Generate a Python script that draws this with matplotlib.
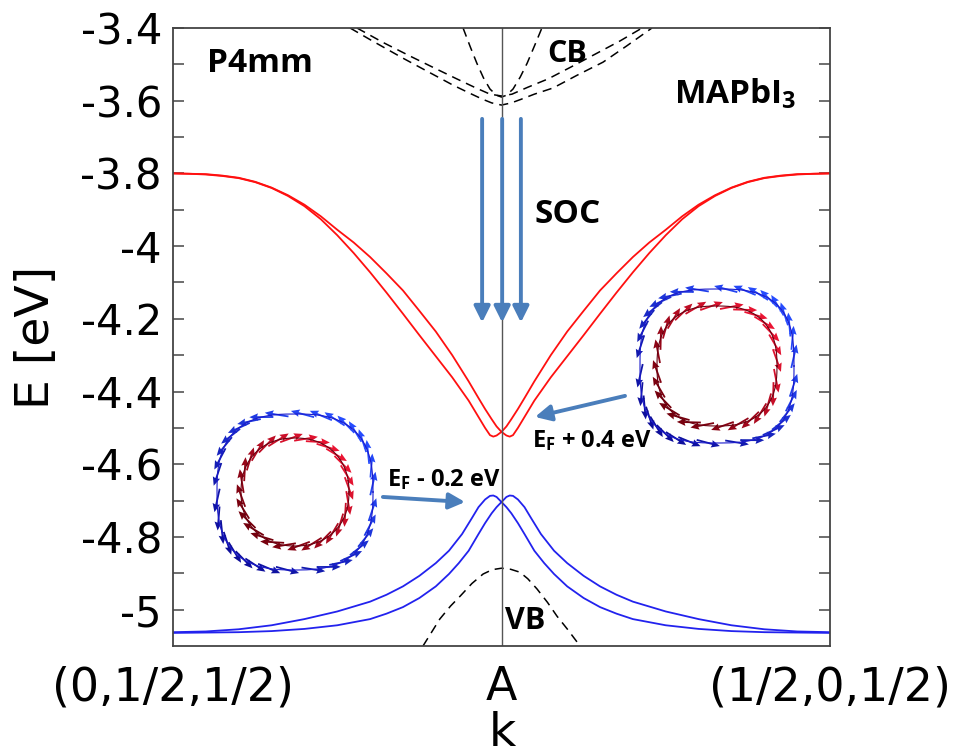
import numpy as np
import matplotlib.pyplot as plt

plt.rcParams['font.family'] = ['DejaVu Sans']
plt.rcParams['mathtext.fontset'] = 'custom'
plt.rcParams['mathtext.rm'] = 'Open Sans:bold'
plt.rcParams['mathtext.it'] = 'Open Sans:bold'
plt.rcParams['mathtext.bf'] = 'Open Sans:bold'

# bands: k along (0,1/2,1/2) -> A -> (1/2,0,1/2), E in eV
# red (SOC-split CB); the second branch is the mirror image k -> -k
k_red = [-1.0, -0.95, -0.9, -0.85, -0.8, -0.75, -0.7, -0.65, -0.6, -0.55, -0.5, -0.45,
         -0.4, -0.35, -0.3, -0.25, -0.2, -0.15, -0.1, -0.07, -0.05, -0.035, -0.025,
         -0.015, 0.0, 0.015, 0.03, 0.05, 0.07, 0.1, 0.15, 0.2, 0.25, 0.3, 0.35, 0.4,
         0.45, 0.5, 0.55, 0.6, 0.65, 0.7, 0.75, 0.8, 0.85, 0.9, 0.95, 1.0]
E_red = [-3.800, -3.801, -3.803, -3.807, -3.813, -3.824, -3.840, -3.862, -3.890, -3.926,
         -3.970, -4.019, -4.072, -4.128, -4.186, -4.245, -4.303, -4.361, -4.425, -4.470,
         -4.500, -4.520, -4.524, -4.521, -4.511, -4.496, -4.476, -4.448, -4.418, -4.372,
         -4.300, -4.235, -4.178, -4.122, -4.075, -4.030, -3.990, -3.955, -3.918, -3.886,
         -3.860, -3.839, -3.823, -3.812, -3.806, -3.802, -3.801, -3.800]

# blue (SOC-split VB), mirrored the same way
k_blue = [-1.0, -0.9, -0.8, -0.7, -0.6, -0.5, -0.4, -0.35, -0.3, -0.25, -0.2, -0.16,
          -0.12, -0.09, -0.07, -0.05, -0.035, -0.025, -0.015, 0.0, 0.015, 0.03, 0.05,
          0.07, 0.1, 0.13, 0.16, 0.2, 0.25, 0.3, 0.35, 0.4, 0.5, 0.6, 0.7, 0.8, 0.9, 1.0]
E_blue = [-5.062, -5.060, -5.054, -5.043, -5.026, -5.005, -4.978, -4.959, -4.936, -4.907,
          -4.872, -4.838, -4.792, -4.748, -4.718, -4.697, -4.687, -4.686, -4.690, -4.704,
          -4.718, -4.735, -4.762, -4.792, -4.838, -4.872, -4.902, -4.936, -4.968, -4.993,
          -5.011, -5.026, -5.043, -5.053, -5.059, -5.062, -5.063, -5.064]

# dashed bands without SOC
k_cb_low = [-0.461, -0.4, -0.3, -0.22, -0.148, -0.1, -0.06, -0.03, 0.0, 0.03, 0.06,
            0.1, 0.157, 0.23, 0.309, 0.38, 0.458]
E_cb_low = [-3.400, -3.432, -3.483, -3.522, -3.557, -3.578, -3.595, -3.606, -3.612,
            -3.606, -3.596, -3.582, -3.565, -3.530, -3.494, -3.450, -3.400]
k_cb_up = [-0.44, -0.36, -0.279, -0.2, -0.136, -0.08, -0.035, 0.0, 0.032, 0.08, 0.142,
           0.21, 0.285, 0.36, 0.428]
E_cb_up = [-3.400, -3.440, -3.477, -3.512, -3.540, -3.564, -3.582, -3.587, -3.582,
           -3.563, -3.540, -3.508, -3.472, -3.436, -3.400]
k_cb_steep = [-0.117, -0.095, -0.075, -0.055, -0.035, -0.015, 0.0, 0.015, 0.035, 0.057,
              0.078, 0.1, 0.123]
E_cb_steep = [-3.400, -3.452, -3.497, -3.537, -3.568, -3.585, -3.590, -3.585, -3.568,
              -3.535, -3.497, -3.450, -3.400]
k_vb = [-0.239, -0.21, -0.188, -0.155, -0.126, -0.09, -0.056, -0.028, 0.0, 0.028, 0.056,
        0.08, 0.108, 0.14, 0.169, 0.2, 0.23, 0.24]
E_vb = [-5.100, -5.058, -5.026, -4.990, -4.963, -4.928, -4.902, -4.890, -4.886, -4.889,
        -4.897, -4.915, -4.943, -4.980, -5.018, -5.053, -5.089, -5.100]

k_ticks = [-1, 0, 1]
k_labels = ['(0,1/2,1/2)', 'A', '(1/2,0,1/2)']
e_ticks = np.round(np.arange(-5.0, -3.35, 0.1), 1)
e_labels = ['-5', '', '-4.8', '', '-4.6', '', '-4.4', '', '-4.2', '', '-4', '',
            '-3.8', '', '-3.6', '', '-3.4']

W, H = 959, 756
fig = plt.figure(figsize=(W / 100, H / 100), dpi=100)
ax = fig.add_axes([173 / W, 1 - 646 / H, 657 / W, 618 / H])

red = '#ff1010'
blue = '#2222ee'
arrow_c = '#4a7ebb'

ax.plot(k_red, E_red, color=red, lw=1.3)
ax.plot(-np.array(k_red), E_red, color=red, lw=1.3)
ax.plot(k_blue, E_blue, color=blue, lw=1.3)
ax.plot(-np.array(k_blue), E_blue, color=blue, lw=1.3)
for ks, es in [(k_cb_low, E_cb_low), (k_cb_up, E_cb_up), (k_cb_steep, E_cb_steep), (k_vb, E_vb)]:
    ax.plot(ks, es, color='black', lw=1.1, ls=(0, (6, 4)))
ax.axvline(0, color='#555555', lw=1.0)

ax.set_xlim(-1, 1)
ax.set_ylim(-5.1, -3.4)
ax.set_xticks(k_ticks)
ax.set_xticklabels(k_labels)
ax.set_yticks(e_ticks)
ax.set_yticklabels(e_labels)
ax.tick_params(axis='y', direction='in', length=8, width=1.2, right=True,
               labelsize=30, pad=8, color='#555555')
ax.tick_params(axis='x', length=0, labelsize=33, pad=14)
for sp in ax.spines.values():
    sp.set_color('#444444')
    sp.set_linewidth(1.3)

fig.text(36 / W, 1 - 337 / H, 'E [eV]', rotation=90, ha='center', va='center', fontsize=34)
fig.text(502 / W, 1 - 733 / H, 'k', ha='center', va='center', fontsize=34)

lab = dict(family='Open Sans', fontweight='bold', ha='center', va='center')
ax.text(-0.735, -3.499, 'P4mm', fontsize=24, **lab)
ax.text(0.199, -3.472, 'CB', fontsize=22, **lab)
ax.text(0.711, -3.582, r'MAPbI$_3$', fontsize=24, **lab)
ax.text(0.202, -3.912, 'SOC', fontsize=24, **lab)
ax.text(0.072, -5.031, 'VB', fontsize=22, **lab)
ax.text(-0.175, -4.643, r'E$_F$ - 0.2 eV', fontsize=17, **lab)
ax.text(0.275, -4.536, r'E$_F$ + 0.4 eV', fontsize=17, **lab)

aprops = dict(arrowstyle='-|>,head_width=0.24,head_length=0.48', lw=2.8, color=arrow_c,
              shrinkA=0, shrinkB=0, mutation_scale=20)
for kx in [-0.059, 0.002, 0.059]:
    ax.annotate('', xy=(kx, -4.21), xytext=(kx, -3.65), arrowprops=aprops)
ax.annotate('', xy=(-0.111, -4.704), xytext=(-0.361, -4.690), arrowprops=aprops)
ax.annotate('', xy=(0.102, -4.470), xytext=(0.376, -4.412), arrowprops=aprops)


def spin_ring(iax, R, n, count, length, tilt, sense, c0, c1, line_c):
    """Draw a spin texture: a rounded contour with arrows along it."""
    def shape(t):
        c, s = np.cos(t), np.sin(t)
        return (R * np.sign(c) * np.abs(c) ** (2 / n),
                R * np.sign(s) * np.abs(s) ** (2 / n))
    t = np.linspace(0, 2 * np.pi, 400)
    x, y = shape(t)
    iax.plot(x, y, color=line_c, lw=0.8)
    ta = np.linspace(0, 2 * np.pi, count, endpoint=False) + 0.05
    xa, ya = shape(ta)
    xb, yb = shape(ta + 1e-3)
    tx, ty = xb - xa, yb - ya
    nr = np.hypot(tx, ty)
    tx, ty = tx / nr, ty / nr
    nx, ny = ty, -tx
    a = np.radians(tilt)
    u = length * (sense * np.cos(a) * tx + np.sin(a) * nx)
    v = length * (sense * np.cos(a) * ty + np.sin(a) * ny)
    frac = (np.sin(ta + 0.8) + 1) / 2
    cols = [tuple(np.array(c0) * (1 - f) + np.array(c1) * f) for f in frac]
    iax.quiver(xa, ya, u, v, color=cols, angles='xy', scale_units='xy', scale=1,
               pivot='middle', width=0.009, headwidth=4.2, headlength=4.8,
               headaxislength=4.3)


def spin_inset(cx, cy, rb, nb, rr, nr):
    iax = fig.add_axes([(cx - 100) / W, 1 - (cy + 100) / H, 200 / W, 200 / H])
    iax.set_xlim(-100, 100)
    iax.set_ylim(-100, 100)
    iax.axis('off')
    spin_ring(iax, rb, nb, 34, 24, 14, 1, (0.05, 0.05, 0.6), (0.15, 0.3, 1.0), '#1a1acc')
    spin_ring(iax, rr, nr, 28, 24, 18, -1, (0.45, 0.0, 0.05), (0.92, 0.08, 0.2), '#6a0010')


spin_inset(295, 492, 78, 2.7, 54, 2.2)
spin_inset(717, 366, 77, 2.9, 60, 2.5)

fig.savefig('out.png', dpi=100)
